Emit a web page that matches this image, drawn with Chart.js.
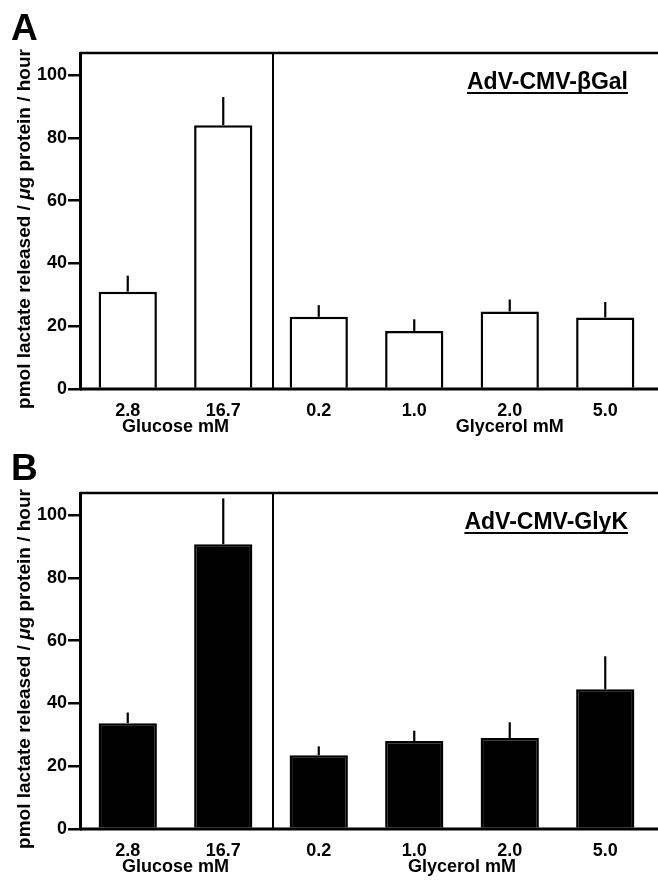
<!DOCTYPE html>
<html>
<head>
<meta charset="utf-8">
<script src="https://cdn.jsdelivr.net/npm/chart.js@4.4.1/dist/chart.umd.min.js"></script>
<style>
  html, body { margin: 0; padding: 0; background: #fff; }
  .panel { position: relative; width: 658px; height: 440px; }
</style>
</head>
<body>
<div class="panel"><canvas id="chartA" width="658" height="440"></canvas></div>
<div class="panel"><canvas id="chartB" width="658" height="440"></canvas></div>
<script>
// categories and tick labels
const categories = ['2.8', '16.7', '0.2', '1.0', '2.0', '5.0'];
const groupLabels = ['Glucose mM', 'Glycerol mM'];
const yTicks = [0, 20, 40, 60, 80, 100];

// panel A: AdV-CMV-βGal (mean and upper error)
const betaGalMeans = [31, 84, 23, 18.5, 24.7, 22.8];
const betaGalErrors = [5.1, 9, 3.7, 3.7, 3.8, 4.9];

// panel B: AdV-CMV-GlyK
const glyKMeans = [33.7, 90.7, 23.5, 28, 29, 44.5];
const glyKErrors = [3.4, 14.6, 2.8, 3.3, 5, 10.5];

const FONT = '"Liberation Sans", Arial, Helvetica, sans-serif';

// Draws error bars, frame, divider, group labels, axis title and panel text
const decorPlugin = {
    id: 'decor',
    afterDraw(chart, args, opts) {
        const ctx = chart.ctx;
        const { left, right, top, bottom } = chart.chartArea;
        const xs = chart.scales.x;
        const ys = chart.scales.y;
        const W = chart.width;
        ctx.save();

        // upper error bars only
        const meta = chart.getDatasetMeta(0);
        const means = chart.data.datasets[0].data;
        ctx.strokeStyle = '#000';
        ctx.lineWidth = 2.2;
        meta.data.forEach((bar, i) => {
            const yTop = ys.getPixelForValue(means[i] + opts.errors[i]);
            ctx.beginPath();
            ctx.moveTo(bar.x, bar.y);
            ctx.lineTo(bar.x, yTop);
            ctx.stroke();
        });

        // top frame line and x axis line, running to the right edge
        ctx.lineWidth = 2.5;
        ctx.beginPath();
        ctx.moveTo(left, top);
        ctx.lineTo(W, top);
        ctx.stroke();
        ctx.lineWidth = 3;
        ctx.beginPath();
        ctx.moveTo(left, bottom);
        ctx.lineTo(W, bottom);
        ctx.stroke();

        // divider between glucose and glycerol groups
        const divX = (xs.getPixelForTick(1) + xs.getPixelForTick(2)) / 2 + 2;
        ctx.lineWidth = 2;
        ctx.beginPath();
        ctx.moveTo(divX, top);
        ctx.lineTo(divX, bottom);
        ctx.stroke();

        // group labels under the tick labels
        ctx.fillStyle = '#000';
        ctx.font = 'bold 18px ' + FONT;
        ctx.textAlign = 'center';
        ctx.textBaseline = 'alphabetic';
        const glucoseX = (xs.getPixelForTick(0) + xs.getPixelForTick(1)) / 2;
        ctx.fillText(groupLabels[0], glucoseX, bottom + 43);
        ctx.fillText(groupLabels[1], xs.getPixelForValue(opts.glycerolAt), bottom + 43);

        // y axis title, with italic mu
        const parts = [
            ['bold 19px ' + FONT, 'pmol lactate released / '],
            ['italic bold 19px ' + FONT, '\u03bc'],
            ['bold 19px ' + FONT, 'g protein / hour']
        ];
        let total = 0;
        parts.forEach(p => { ctx.font = p[0]; total += ctx.measureText(p[1]).width; });
        ctx.translate(30, (top + bottom) / 2 + 8);
        ctx.rotate(-Math.PI / 2);
        ctx.textAlign = 'left';
        let pos = -total / 2;
        parts.forEach(p => {
            ctx.font = p[0];
            ctx.fillText(p[1], pos, 0);
            pos += ctx.measureText(p[1]).width;
        });
        ctx.setTransform(1, 0, 0, 1, 0, 0);

        // panel letter
        ctx.font = 'bold 37px ' + FONT;
        ctx.textAlign = 'left';
        ctx.fillText(opts.letter, 11, 40);

        // construct name, underlined
        ctx.font = 'bold 23px ' + FONT;
        ctx.textAlign = 'right';
        const tx = right - 25;
        ctx.fillText(opts.title, tx, 89);
        const tw = ctx.measureText(opts.title).width;
        ctx.fillRect(tx - tw, 92, tw, 2);

        ctx.restore();
    }
};

function makePanel(canvasId, means, errors, fill, letter, title, glycerolAt) {
    const ctx = document.getElementById(canvasId).getContext('2d');
    return new Chart(ctx, {
        type: 'bar',
        data: {
            labels: categories,
            datasets: [{
                data: means,
                backgroundColor: fill,
                borderColor: '#000',
                borderWidth: 2.5,
                barPercentage: 0.61,
                categoryPercentage: 1.0
            }]
        },
        options: {
            responsive: false,
            animation: false,
            devicePixelRatio: 1,
            layout: { padding: { top: 53, right: 5, left: 0, bottom: 0 } },
            plugins: {
                legend: { display: false },
                tooltip: { enabled: false },
                decor: { errors: errors, letter: letter, title: title, glycerolAt: glycerolAt }
            },
            scales: {
                x: {
                    offset: true,
                    afterFit: axis => { axis.height = 51; },
                    grid: { display: false, drawTicks: false },
                    border: { display: false },
                    ticks: {
                        color: '#000',
                        font: { family: FONT, size: 18, weight: 'bold' },
                        padding: 11,
                        maxRotation: 0,
                        autoSkip: false
                    }
                },
                y: {
                    min: 0,
                    max: 107,
                    afterBuildTicks: axis => { axis.ticks = yTicks.map(v => ({ value: v })); },
                    afterFit: axis => { axis.width = 80; },
                    ticks: {
                        color: '#000',
                        font: { family: FONT, size: 18, weight: 'bold' },
                        padding: 1
                    },
                    grid: {
                        drawOnChartArea: false,
                        drawTicks: true,
                        tickLength: 12,
                        lineWidth: 2.5,
                        color: '#000'
                    },
                    border: { display: true, width: 3, color: '#000' }
                }
            }
        },
        plugins: [decorPlugin]
    });
}

makePanel('chartA', betaGalMeans, betaGalErrors, '#fff', 'A', 'AdV-CMV-\u03b2Gal', 4.0);
makePanel('chartB', glyKMeans, glyKErrors, '#000', 'B', 'AdV-CMV-GlyK', 3.5);
</script>
</body>
</html>
